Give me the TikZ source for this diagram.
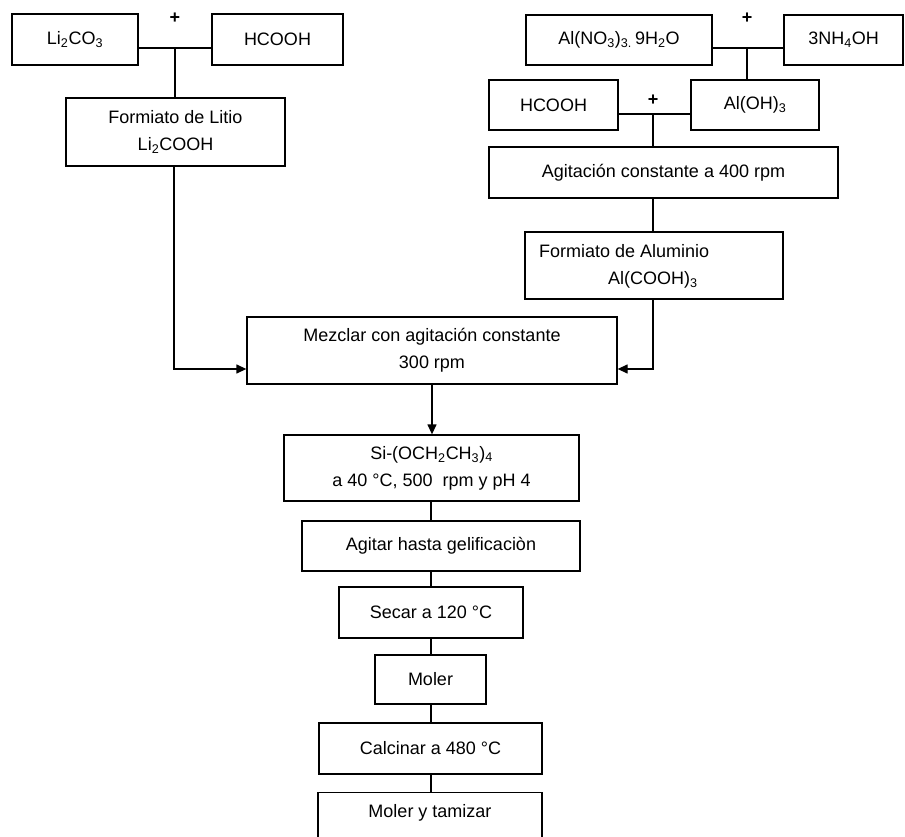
\documentclass[tikz,border=0pt]{standalone}
\usepackage{fontspec}
\setmainfont{Liberation Sans}
\usetikzlibrary{arrows.meta}
\begin{document}
\begin{tikzpicture}[x=1pt,y=-1pt,
  box/.style={draw, line width=1.3pt, inner sep=0pt, align=center, font=\fontsize{18}{27}\selectfont},
  txt/.style={inner sep=0pt, font=\fontsize{18}{27}\selectfont},
  ln/.style={line width=1.3pt},
  arr/.style={ln,-{Triangle[length=10pt,width=9pt]}},
  plus/.style={font=\fontsize{18}{20}\selectfont\bfseries, inner sep=0pt}]
\useasboundingbox (0,0) rectangle (905,837);
\clip (0,0) rectangle (905,837);
% left branch
\node[box, minimum width=126, minimum height=51] (li) at (75,39.5) {Li\textsubscript{2}CO\textsubscript{3}};
\node[box, minimum width=131, minimum height=51] (h1) at (277.5,39.5) {HCOOH};
\node[box, minimum width=219, minimum height=68] (fli) at (175.5,132) {Formiato de Litio\\Li\textsubscript{2}COOH};
\node[plus] (p1) at (175,18) {+};
% right branch
\node[box, minimum width=186, minimum height=50] (alno) at (619,40) {Al(NO\textsubscript{3})\textsubscript{3.}\,9H\textsubscript{2}O};
\node[box, minimum width=119, minimum height=50] (nh) at (843.5,40) {3NH\textsubscript{4}OH};
\node[plus] (p2) at (747,18) {+};
\node[box, minimum width=129, minimum height=50] (h2) at (553.5,105) {HCOOH};
\node[box, minimum width=128, minimum height=50] (aloh) at (755,105) {Al(OH)\textsubscript{3}};
\node[plus] (p3) at (653,100) {+};
\node[box, minimum width=349, minimum height=51] (agit) at (663.5,172.5) {Agitación constante a 400 rpm};
\node[box, minimum width=258, minimum height=67] (fal) at (654,265.5) {};
\node[txt, anchor=west, align=left] (faltxt) at (539,266.5) {Formiato de Aluminio\\\hspace*{69pt}Al(COOH)\textsubscript{3}};
% main chain
\node[box, minimum width=370, minimum height=67] (mez) at (432,350.5) {Mezclar con agitación constante\\300 rpm};
\node[box, minimum width=295, minimum height=66] (si) at (431.5,468) {Si-(OCH\textsubscript{2}CH\textsubscript{3})\textsubscript{4}\\a 40 °C, 500\ \ rpm y pH 4};
\node[box, minimum width=278, minimum height=50] (agh) at (441,546) {Agitar hasta gelificaciòn};
\node[box, minimum width=184, minimum height=51] (sec) at (431,612.5) {Secar a 120 °C};
\node[box, minimum width=111, minimum height=49] (mol) at (430.5,679.5) {Moler};
\node[box, minimum width=223, minimum height=51] (cal) at (430.5,748.5) {Calcinar a 480 °C};
\node[box, minimum width=224, minimum height=80, anchor=north] (mt) at (430,792) {};
\node[txt] (mttxt) at (430,813) {Moler y tamizar};
% junctions
\coordinate (j1) at (175,48);
\coordinate (j2) at (747,48);
\coordinate (j3) at (653,114);
\coordinate (c1) at (174,369);
\coordinate (c2) at (653,369);
\coordinate (v) at (431,0);
% connectors
\draw[ln] (li.east|-j1) -- (h1.west|-j1);
\draw[ln] (j1) -- (j1|-fli.north);
\draw[arr] (c1|-fli.south) -- (c1) -- (mez.west|-c1);
\draw[ln] (alno.east|-j2) -- (nh.west|-j2);
\draw[ln] (j2) -- (j2|-aloh.north);
\draw[ln] (h2.east|-j3) -- (aloh.west|-j3);
\draw[ln] (j3) -- (j3|-agit.north);
\draw[ln] (j3|-agit.south) -- (j3|-fal.north);
\draw[arr] (c2|-fal.south) -- (c2) -- (mez.east|-c2);
\draw[arr] (mez.south) -- (mez.south|-si.north);
\draw[ln] (v|-si.south) -- (v|-agh.north);
\draw[ln] (v|-agh.south) -- (v|-sec.north);
\draw[ln] (v|-sec.south) -- (v|-mol.north);
\draw[ln] (v|-mol.south) -- (v|-cal.north);
\draw[ln] (v|-cal.south) -- (v|-mt.north);
\end{tikzpicture}
\end{document}
